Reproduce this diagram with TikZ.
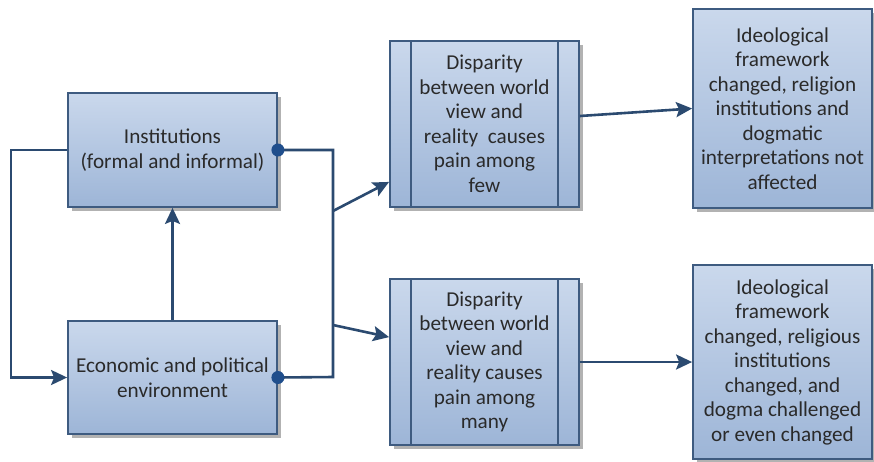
\documentclass[tikz,border=0pt]{standalone}
\usepackage{fontspec}
\setmainfont{Carlito}
\usetikzlibrary{arrows.meta,shadows,calc}
\definecolor{boxtop}{HTML}{CAD8EC}
\definecolor{boxbot}{HTML}{9DB5D7}
\definecolor{edgec}{HTML}{3E5B80}
\definecolor{wirec}{HTML}{2B4A70}
\definecolor{dotc}{HTML}{1F4E8C}
\definecolor{txtc}{HTML}{2A2A2A}
\begin{document}
\begin{tikzpicture}[x=1pt,y=-1pt,
  box/.style={draw=edgec, line width=1.8pt, top color=boxtop, bottom color=boxbot,
    drop shadow={shadow xshift=3.5pt, shadow yshift=-3.5pt, fill=black, opacity=0.3},
    text=txtc, align=center, font=\fontsize{21.2}{24.5}\selectfont, inner sep=0pt},
  wire/.style={draw=wirec, line width=2.6pt},
  arr/.style={wire, -{Stealth[length=16pt,width=15pt,inset=3pt]}},
  dotm/.style={fill=dotc}
]
\useasboundingbox[fill=white] (0,0) rectangle (874,461);

\node[box, minimum width=209pt, minimum height=114pt] (inst) at (172.5,150) {Institutions\\(formal and informal)};
\node[box, minimum width=209pt, minimum height=113pt] (econ) at (172.5,377.5) {Economic and political\\environment};
\node[box, minimum width=189pt, minimum height=166pt] (mid1) at (484.5,124) {Disparity\\between world\\view and\\reality~~causes\\pain among\\few};
\node[box, minimum width=189pt, minimum height=166pt] (mid2) at (484.5,362) {Disparity\\between world\\view and\\reality causes\\pain among\\many};
\node[box, minimum width=179pt, minimum height=199pt] (r1) at (782.5,108.5) {Ideological\\framework\\changed, religion\\institutions and\\dogmatic\\interpretations not\\affected};
\node[box, minimum width=179pt, minimum height=194pt] (r2) at (782.5,362) {Ideological\\framework\\changed, religious\\institutions\\changed, and\\dogma challenged\\or even changed};

% inner bars of the middle boxes
\foreach \m in {mid1,mid2}{
  \draw[edgec, line width=1.6pt] ($(\m.north west)+(22,0)$) -- ($(\m.south west)+(22,0)$);
  \draw[edgec, line width=1.6pt] ($(\m.north east)+(-22,0)$) -- ($(\m.south east)+(-22,0)$);
}

% left feedback loop
\draw[arr] (inst.west) -- ++(-56,0) |- (econ.west);
% econ -> inst
\draw[arr] (econ.north) -- (inst.south);

% right bus
\coordinate (jt) at (333,150);
\coordinate (jb) at (333,377);
\draw[wire] (inst.east) -- (jt) -- (jb) -- (econ.east);
\fill[dotm] (inst.east) circle (6.5pt);
\fill[dotm] (econ.east) circle (6.5pt);

\coordinate (s1) at (333,211);
\coordinate (s2) at (333,325);
\draw[arr] (s1) -- ($(mid1.south west)+(0,-26)$);
\draw[arr] (s2) -- ($(mid2.north west)+(0,59)$);

\draw[arr] ($(mid1.east)+(0,-8)$) -- (r1.west);
\draw[arr] (mid2.east) -- (r2.west);
\end{tikzpicture}
\end{document}
